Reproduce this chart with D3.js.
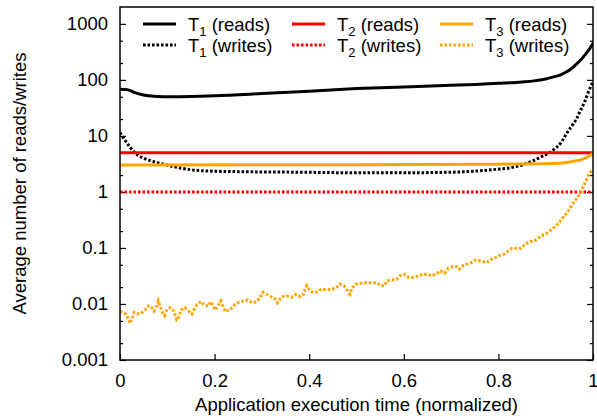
<!DOCTYPE html>
<html>
<head>
<meta charset="utf-8">
<script src="https://cdn.jsdelivr.net/npm/d3@7"></script>
<style>
  body { margin: 0; background: #fff; }
  svg { font-family: "Liberation Sans", Arial, Helvetica, sans-serif; }
</style>
</head>
<body>
<svg id="chart" width="597" height="416"></svg>
<script>
// T1 (reads), black solid
const tT1Reads = [0, 0.015, 0.03, 0.045, 0.06, 0.08, 0.1, 0.15, 0.2, 0.3, 0.4, 0.5, 0.6, 0.7, 0.75, 0.8, 0.85, 0.875, 0.9, 0.915, 0.93, 0.945, 0.955, 0.966, 0.975, 0.983, 0.992, 1.0];
const t1Reads = [68, 67, 60, 55, 52, 50.5, 50, 50.5, 52, 57, 63, 70, 75, 80, 83, 87, 92, 96, 104, 112, 122, 141, 160, 195, 230, 280, 350, 450];

// T1 (writes), black dotted
const tT1Writes = [0, 0.01, 0.02, 0.03, 0.05, 0.07, 0.09, 0.13, 0.17, 0.25, 0.38, 0.5, 0.6, 0.7, 0.75, 0.8, 0.82, 0.856, 0.89, 0.916, 0.934, 0.944, 0.955, 0.965, 0.973, 0.982, 0.99, 1.0];
const t1Writes = [11.5, 8.5, 6.5, 5.1, 4.0, 3.5, 3.15, 2.65, 2.4, 2.3, 2.25, 2.2, 2.2, 2.25, 2.35, 2.55, 2.65, 3.15, 4.2, 5.6, 7.9, 11, 15, 20, 28, 40, 60, 93];

// T2, constant
const tT2 = [0, 1];
const t2Reads = [5, 5];
const t2Writes = [1, 1];

// T3 (reads), orange solid
const tT3Reads = [0, 0.5, 0.75, 0.9, 0.93, 0.96, 0.98, 0.99, 1.0];
const t3Reads = [3.03, 3.07, 3.12, 3.18, 3.25, 3.55, 3.9, 4.3, 4.9];

// T3 (writes), orange dotted (noisy)
const tT3Writes = [0, 0.012, 0.018, 0.021, 0.026, 0.030, 0.037, 0.044, 0.053, 0.060, 0.066, 0.072, 0.078, 0.081, 0.085, 0.090, 0.094, 0.099, 0.106, 0.114,
  0.120, 0.123, 0.129, 0.137, 0.152, 0.156, 0.162, 0.171, 0.178, 0.187, 0.192, 0.201, 0.207, 0.213, 0.217, 0.223, 0.233, 0.242, 0.249, 0.261,
  0.270, 0.280, 0.289, 0.296, 0.302, 0.310, 0.319, 0.328, 0.333, 0.342, 0.352, 0.363, 0.372, 0.381, 0.388, 0.391, 0.395, 0.402, 0.410, 0.418,
  0.426, 0.437, 0.448, 0.457, 0.465, 0.474, 0.481, 0.486, 0.491, 0.498, 0.505, 0.519, 0.531, 0.543, 0.552, 0.559, 0.564, 0.573, 0.585, 0.592,
  0.601, 0.610, 0.620, 0.631, 0.641, 0.651, 0.659, 0.670, 0.678, 0.686, 0.694, 0.703, 0.712, 0.717, 0.725, 0.733, 0.744, 0.752, 0.762, 0.775,
  0.789, 0.802, 0.812, 0.821, 0.829, 0.839, 0.848, 0.856, 0.867, 0.876, 0.886, 0.895, 0.904, 0.913, 0.922, 0.930, 0.937, 0.944, 0.951, 0.958,
  0.966, 0.973, 0.978, 0.983, 0.988, 0.992, 0.997, 1.0];
const t3Writes = [0.0075, 0.0066, 0.0054, 0.0045, 0.0057, 0.0071, 0.0067, 0.0067, 0.0078, 0.0092, 0.0090, 0.0075, 0.0092, 0.0113, 0.0090, 0.0069, 0.0062, 0.0078, 0.0086, 0.0075,
  0.0052, 0.0054, 0.0078, 0.0086, 0.0066, 0.0078, 0.0096, 0.0110, 0.0096, 0.0092, 0.0110, 0.0078, 0.0093, 0.0113, 0.0093, 0.0073, 0.0080, 0.0096, 0.0105, 0.0113,
  0.0118, 0.0105, 0.0110, 0.0130, 0.0162, 0.0149, 0.0135, 0.0123, 0.0105, 0.0135, 0.0140, 0.0132, 0.0149, 0.0135, 0.0149, 0.0178, 0.0212, 0.0171, 0.0159, 0.0166,
  0.0185, 0.0178, 0.0183, 0.0195, 0.0227, 0.0209, 0.0171, 0.0149, 0.0195, 0.0225, 0.0234, 0.0240, 0.0240, 0.0240, 0.0212, 0.0212, 0.0257, 0.0268, 0.0276, 0.0320,
  0.0340, 0.0295, 0.0300, 0.0317, 0.0340, 0.0340, 0.0317, 0.0352, 0.0389, 0.0352, 0.0434, 0.0463, 0.0463, 0.0417, 0.0483, 0.0512, 0.0555, 0.061, 0.0585, 0.0546,
  0.0654, 0.0728, 0.0773, 0.0883, 0.0986, 0.0986, 0.0986, 0.116, 0.130, 0.133, 0.153, 0.171, 0.188, 0.216, 0.247, 0.295, 0.353, 0.416, 0.497, 0.628,
  0.77, 0.94, 1.17, 1.43, 1.76, 2.15, 2.40, 2.55];

// axis ticks
const xTicks = [0, 0.2, 0.4, 0.6, 0.8, 1];
const xTickLabels = ["0", "0.2", "0.4", "0.6", "0.8", "1"];
const yTicks = [0.001, 0.01, 0.1, 1, 10, 100, 1000];
const yTickLabels = ["0.001", "0.01", "0.1", "1", "10", "100", "1000"];
const yMinorTicks = [0.002, 0.005, 0.02, 0.05, 0.2, 0.5, 2, 5, 20, 50, 200, 500];

const size = { width: 597, height: 416, left: 120, right: 4, top: 7, bottom: 56 };
const fontSize = "18.5px";

const svg = d3.select("#chart");
const plotW = size.width - size.left - size.right;
const plotH = size.height - size.top - size.bottom;

const x = d3.scaleLinear().domain([0, 1]).range([size.left, size.left + plotW]);
const y = d3.scaleLog().domain([0.001, 2000]).range([size.top + plotH, size.top]);

// series definitions
const series = [
  { name: "1", kind: "reads", t: tT1Reads, v: t1Reads, color: "#000000", dash: null, curve: d3.curveMonotoneX },
  { name: "1", kind: "writes", t: tT1Writes, v: t1Writes, color: "#000000", dash: "2.6,1.9", curve: d3.curveMonotoneX },
  { name: "2", kind: "reads", t: tT2, v: t2Reads, color: "#ff0000", dash: null, curve: d3.curveLinear },
  { name: "2", kind: "writes", t: tT2, v: t2Writes, color: "#ff0000", dash: "2.6,1.9", curve: d3.curveLinear },
  { name: "3", kind: "reads", t: tT3Reads, v: t3Reads, color: "#ffa500", dash: null, curve: d3.curveMonotoneX },
  { name: "3", kind: "writes", t: tT3Writes, v: t3Writes, color: "#ffa500", dash: "2.6,1.9", curve: d3.curveLinear }
];

// clip to plot area
svg.append("defs").append("clipPath").attr("id", "clip")
  .append("rect")
  .attr("x", size.left).attr("y", size.top)
  .attr("width", plotW).attr("height", plotH);

// axes (ticks point inward)
const yAxis = svg.append("g")
  .attr("transform", `translate(${size.left},0)`)
  .call(d3.axisLeft(y).tickValues(yTicks).tickSize(-6).tickPadding(12)
    .tickFormat((d, i) => yTickLabels[i]));
svg.append("g")
  .attr("transform", `translate(${size.left},0)`)
  .call(d3.axisLeft(y).tickValues(yMinorTicks).tickSize(-3).tickFormat(""));
svg.append("g")
  .attr("transform", `translate(${size.left + plotW},0)`)
  .call(d3.axisRight(y).tickValues(yTicks).tickSize(-6).tickFormat(""));
svg.append("g")
  .attr("transform", `translate(${size.left + plotW},0)`)
  .call(d3.axisRight(y).tickValues(yMinorTicks).tickSize(-3).tickFormat(""));
const xAxis = svg.append("g")
  .attr("transform", `translate(0,${size.top + plotH})`)
  .call(d3.axisBottom(x).tickValues(xTicks).tickSize(-6).tickPadding(14)
    .tickFormat((d, i) => xTickLabels[i]));

svg.selectAll(".domain").remove();
svg.selectAll(".tick line").attr("stroke", "#000").attr("stroke-width", 1.2);
svg.selectAll(".tick text")
  .attr("fill", "#000")
  .style("font-size", fontSize)
  .style("font-family", "'Liberation Sans', Arial, sans-serif");

// lines
const lines = svg.append("g").attr("clip-path", "url(#clip)");
series.forEach(s => {
  const pts = s.t.map((t, i) => [t, s.v[i]]);
  const line = d3.line().x(d => x(d[0])).y(d => y(d[1])).curve(s.curve);
  lines.append("path")
    .datum(pts)
    .attr("d", line)
    .attr("fill", "none")
    .attr("stroke", s.color)
    .attr("stroke-width", 3)
    .attr("stroke-dasharray", s.dash);
});

// plot border
svg.append("rect")
  .attr("x", size.left).attr("y", size.top)
  .attr("width", plotW).attr("height", plotH)
  .attr("fill", "none").attr("stroke", "#000").attr("stroke-width", 1.5);

// legend: three columns, reads on top row, writes below
const legendCols = [143, 292, 440];
const legendRows = { reads: 24, writes: 45 };
series.forEach((s, i) => {
  const col = legendCols[Math.floor(i / 2)];
  const ly = legendRows[s.kind];
  svg.append("line")
    .attr("x1", col).attr("x2", col + 33)
    .attr("y1", ly).attr("y2", ly)
    .attr("stroke", s.color).attr("stroke-width", 3)
    .attr("stroke-dasharray", s.dash);
  const txt = svg.append("text")
    .attr("x", col + 45).attr("y", ly + 6.5)
    .style("font-size", fontSize)
    .attr("fill", "#000");
  txt.append("tspan").text("T");
  txt.append("tspan").attr("dy", 5).style("font-size", "13px").text(s.name);
  txt.append("tspan").attr("dy", -5).text(` (${s.kind})`);
});

// axis titles
svg.append("text")
  .attr("x", size.left + plotW / 2)
  .attr("y", 411)
  .attr("text-anchor", "middle")
  .style("font-size", fontSize)
  .text("Application execution time (normalized)");

svg.append("text")
  .attr("transform", `translate(26,${size.top + plotH / 2}) rotate(-90)`)
  .attr("text-anchor", "middle")
  .style("font-size", fontSize)
  .text("Average number of reads/writes");
</script>
</body>
</html>
